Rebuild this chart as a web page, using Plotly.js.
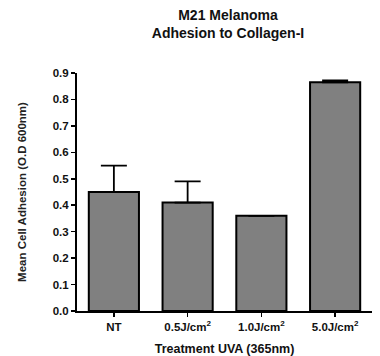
<!DOCTYPE html>
<html><head><meta charset="utf-8">
<script src="https://cdn.plot.ly/plotly-3.0.1.min.js"></script>
<style>html,body{margin:0;padding:0;background:#fff}</style>
</head><body><div id="chart" style="width:380px;height:356px"></div>
<script>
const categories = ["NT", "0.5J/cm<sup>2</sup>", "1.0J/cm<sup>2</sup>", "5.0J/cm<sup>2</sup>"];
const meanAdhesion = [0.45, 0.41, 0.36, 0.865];
const errorUpper = [0.10, 0.08, 0, 0.007];
const yTicks = [0, 0.1, 0.2, 0.3, 0.4, 0.5, 0.6, 0.7, 0.8, 0.9];

const trace = {
  type: 'bar', x: categories, y: meanAdhesion,
  marker: {color: '#808080', line: {color: '#000', width: 2}},
  error_y: {type: 'data', symmetric: false, array: errorUpper, arrayminus: [0,0,0,0], color: '#000', thickness: 1.8, width: 13},
  width: 0.68
};
const layout = {
  width: 380, height: 356,
  margin: {l: 77, r: 8, t: 73, b: 45},
  paper_bgcolor: '#fff', plot_bgcolor: '#fff',
  showlegend: false,
  font: {family: 'Liberation Sans, Arial, sans-serif', color: '#000'},
  title: {text: '<b>M21 Melanoma<br>Adhesion to Collagen-I</b>', font: {size: 14, color: '#111'}, x: 0.6, xanchor: 'center', yref: 'container', y: 0.945, yanchor: 'top'},
  xaxis: {
    type: 'category', range: [-0.5, 3.5],
    showline: true, linecolor: '#000', linewidth: 2,
    ticks: 'outside', ticklen: 4, tickwidth: 1.5, tickcolor: '#000',
    tickfont: {size: 11.5, weight: 'bold', color: '#111'},
    title: {text: '<b>Treatment UVA (365nm)</b>', font: {size: 12.5, color: '#111'}, standoff: 12},
    showgrid: false, zeroline: false, fixedrange: true
  },
  yaxis: {
    range: [0, 0.9], tickvals: yTicks, tickformat: '.1f',
    showline: true, linecolor: '#000', linewidth: 2,
    ticks: 'outside', ticklen: 4, tickwidth: 1.5, tickcolor: '#000',
    tickfont: {size: 11.5, weight: 'bold', color: '#111'},
    title: {text: '<b>Mean Cell Adhesion (O.D 600nm)</b>', font: {size: 11.5, color: '#222'}, standoff: 24},
    showgrid: false, zeroline: false, fixedrange: true
  }
};
Plotly.newPlot('chart', [trace], layout, {displayModeBar: false, staticPlot: true});
</script></body></html>
